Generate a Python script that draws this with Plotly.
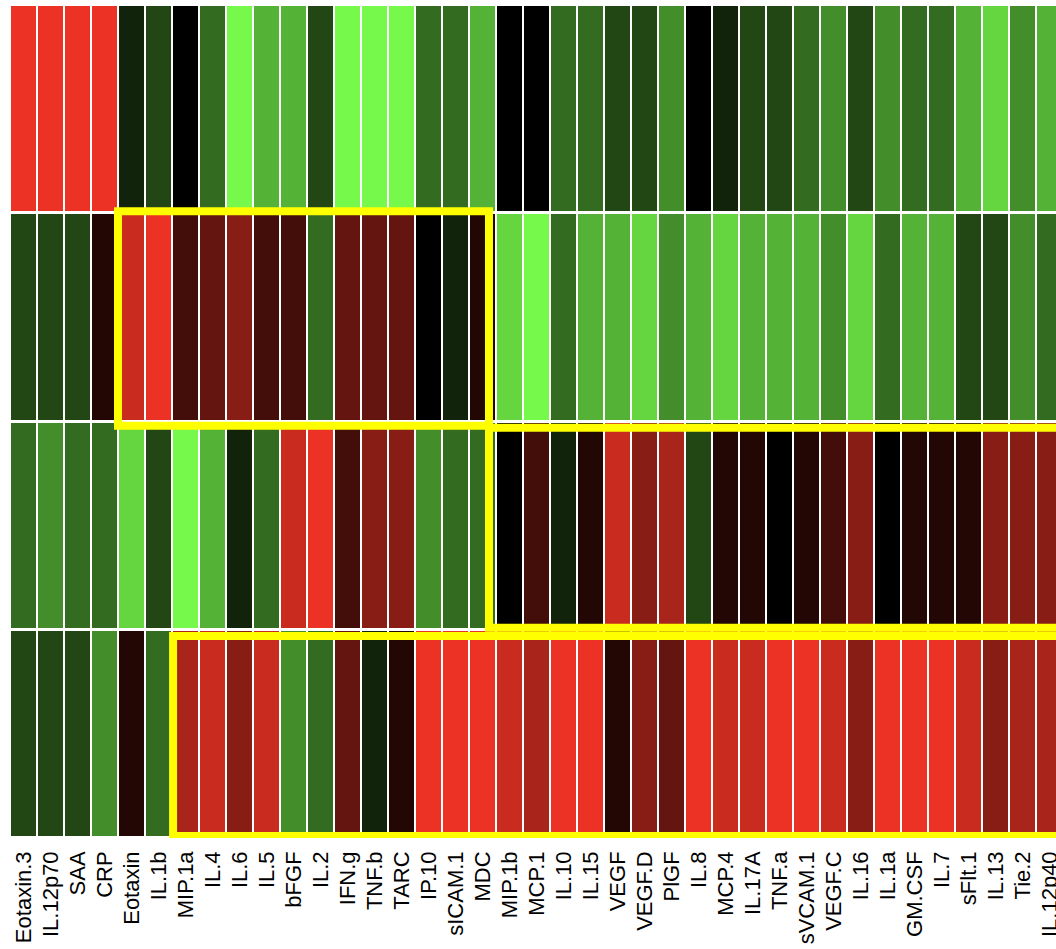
import plotly.graph_objects as go

# Column (analyte) labels, left to right
analytes = ["Eotaxin.3", "IL.12p70", "SAA", "CRP", "Eotaxin", "IL.1b", "MIP.1a", "IL.4",
            "IL.6", "IL.5", "bFGF", "IL.2", "IFN.g", "TNF.b", "TARC", "IP.10", "sICAM.1",
            "MDC", "MIP.1b", "MCP.1", "IL.10", "IL.15", "VEGF", "VEGF.D", "PlGF", "IL.8",
            "MCP.4", "IL.17A", "TNF.a", "sVCAM.1", "VEGF.C", "IL.16", "IL.1a", "GM.CSF",
            "IL.7", "sFlt.1", "IL.13", "Tie.2", "IL.12p40"]

# Row values (scaled score: negative = green, positive = red)
row1 = [7, 7, 7, 7, -1, -2, 0, -3, -7, -5, -5, -2, -7, -7, -7, -3, -3, -5, 0, 0, -3, -3, -2,
        -2, -4, 0, -1, -2, -2, -3, -4, -2, -4, -3, -3, -5, -6, -4, -5]
row2 = [-2, -2, -2, 1, 6, 7, 2, 3, 4, 2, 2, -3, 3, 3, 3, 0, -1, 1, -6, -7, -3, -5, -5, -6, -4,
        -5, -6, -5, -5, -5, -4, -6, -3, -5, -5, -2, -2, -4, -3]
row3 = [-3, -4, -3, -3, -6, -2, -7, -5, -1, -3, 6, 7, 2, 4, 4, -4, -3, -3, 0, 2, -1, 1, 6, 4,
        5, -2, 1, 1, 0, 1, 2, 4, 0, 1, 1, 1, 4, 4, 4]
row4 = [-2, -2, -2, -4, 1, -3, 5, 6, 4, 6, -4, -3, 3, -1, 1, 7, 7, 7, 6, 5, 7, 7, 1, 4, 3, 7,
        6, 6, 7, 7, 6, 4, 7, 7, 7, 6, 4, 5, 5]
rows = [0, 1, 2, 3]

fig = go.Figure(go.Heatmap(
    z=[row1, row2, row3, row4],
    x=analytes,
    y=rows,
    zmin=-7, zmax=7,
    colorscale=[[0.0, "rgb(118,249,75)"], [0.5, "rgb(0,0,0)"], [1.0, "rgb(236,50,36)"]],
    showscale=False,
    xgap=2, ygap=3,
    hoverinfo="x+z",
))

yellow = dict(color="#FFFF00", width=8)
# highlight boxes (in cell-index units)
fig.add_shape(type="rect", x0=3.5, x1=17.24, y0=0.49, y1=1.52, line=yellow)
fig.add_shape(type="rect", x0=17.24, x1=40, y0=1.53, y1=2.49, line=yellow)
fig.add_shape(type="rect", x0=5.54, x1=40, y0=2.53, y1=3.49, line=yellow)

fig.update_layout(
    width=1056, height=949,
    margin=dict(l=10, r=0, t=5, b=111),
    plot_bgcolor="white", paper_bgcolor="white",
    font=dict(family="Liberation Sans, Arial, sans-serif", color="black"),
)
fig.update_xaxes(range=[-0.5, -0.5 + 1046 / 27], tickangle=-90, tickfont=dict(size=22),
                 showgrid=False, zeroline=False, ticks="", ticklabelstandoff=8,
                 automargin=False)
fig.update_yaxes(range=[3.5, -0.5], showticklabels=False, showgrid=False, zeroline=False,
                 automargin=False)

fig.write_html("out.html", config={"displayModeBar": False},
               post_script="document.body.style.margin='0px';document.body.style.overflow='hidden';")
